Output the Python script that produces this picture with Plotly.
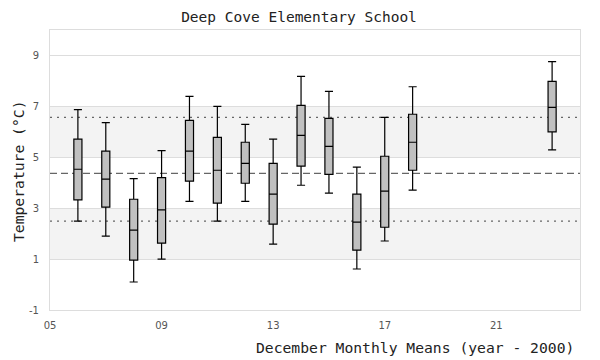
import plotly.graph_objects as go

# ---- data ----
years = [6, 7, 8, 9, 10, 11, 12, 13, 14, 15, 16, 17, 18, 23]
upper = [6.87, 6.36, 4.16, 5.26, 7.39, 7.00, 6.29, 5.71, 8.18, 7.59, 4.61, 6.57, 7.77, 8.76]
q3 = [5.71, 5.24, 3.35, 4.20, 6.45, 5.78, 5.59, 4.76, 7.04, 6.53, 3.55, 5.04, 6.69, 7.98]
median = [4.53, 4.14, 2.14, 2.93, 5.24, 4.49, 4.76, 3.55, 5.86, 5.43, 2.45, 3.67, 5.59, 6.96]
q1 = [3.33, 3.04, 0.96, 1.63, 4.06, 3.20, 3.98, 2.37, 4.65, 4.33, 1.35, 2.25, 4.49, 6.00]
lower = [2.49, 1.90, 0.10, 1.00, 3.27, 2.49, 3.27, 1.59, 3.90, 3.59, 0.61, 1.71, 3.71, 5.29]

mean_line = 4.37
dotted_lines = [6.57, 2.49]
bands = [(1, 3), (5, 7)]

x_tickvals = [5, 9, 13, 17, 21]
x_ticktext = ["05", "09", "13", "17", "21"]
y_tickvals = [-1, 1, 3, 5, 7, 9]
y_ticktext = ["-1", "1", "3", "5", "7", "9"]

title_text = "Deep Cove Elementary School"
x_title = "December Monthly Means (year - 2000)"
y_title = "Temperature (°C)"

MONO = "DejaVu Sans Mono"
SANS = "DejaVu Sans"

# page body has an 8px margin -> figure is 592x352, offsets are window px - 8
W, H = 592, 352
L, T, R, B = 42, 22, 20, 50
PW, PH = W - L - R, H - T - B

fig = go.Figure()

fig.add_trace(go.Box(
    x=years, q1=q1, median=median, q3=q3,
    lowerfence=lower, upperfence=upper,
    width=0.29, whiskerwidth=1,
    fillcolor="#c0c0c0",
    line=dict(color="#000000", width=1.2),
    boxpoints=False, showlegend=False, hoverinfo="skip",
))

shapes = []
for b0, b1 in bands:
    shapes.append(dict(type="rect", xref="paper", yref="y", x0=0, x1=1, y0=b0, y1=b1,
                       fillcolor="#f3f3f3", line=dict(width=0), layer="below"))
shapes.append(dict(type="line", xref="paper", yref="y", x0=0, x1=1,
                   y0=mean_line, y1=mean_line,
                   line=dict(color="#666666", width=1.3, dash="7px,4px"), layer="below"))
for v in dotted_lines:
    shapes.append(dict(type="line", xref="paper", yref="y", x0=0, x1=1, y0=v, y1=v,
                       line=dict(color="#666666", width=1.3, dash="2px,5px"), layer="below"))

fig.update_layout(
    width=W, height=H,
    margin=dict(l=L, r=R, t=T, b=B, autoexpand=False),
    paper_bgcolor="white", plot_bgcolor="white",
    shapes=shapes,
    title=dict(text=title_text, x=(299 - 8) / W, xref="container", xanchor="center",
               y=1 - 9 / H, yref="container", yanchor="middle",
               font=dict(family=MONO, size=14.5, color="#222222")),
    xaxis=dict(range=[5, 24], tickvals=x_tickvals, ticktext=x_ticktext,
               showgrid=False, zeroline=False, ticks="",
               showline=True, linecolor="#dddddd", linewidth=1, mirror=True,
               tickfont=dict(family=SANS, size=10, color="#555555"),
               ticklabelstandoff=6),
    yaxis=dict(range=[-1, 10], tickvals=y_tickvals, ticktext=y_ticktext,
               showgrid=True, gridcolor="#dddddd", gridwidth=1,
               zeroline=False, ticks="",
               showline=True, linecolor="#dddddd", linewidth=1, mirror=True,
               tickfont=dict(family=SANS, size=10, color="#555555"),
               ticklabelstandoff=8),
    annotations=[
        dict(text=x_title, xref="paper", yref="paper",
             x=(576 - 50) / PW, y=-(347 - 310) / PH,
             xanchor="right", yanchor="middle", showarrow=False,
             font=dict(family=MONO, size=14.7, color="#222222")),
        dict(text=y_title, xref="paper", yref="paper",
             x=(18 - 50) / PW, y=(310 - 172) / PH, textangle=-90,
             xanchor="center", yanchor="middle", showarrow=False,
             font=dict(family=MONO, size=14.7, color="#222222")),
    ],
)

fig.write_html("out.html")
